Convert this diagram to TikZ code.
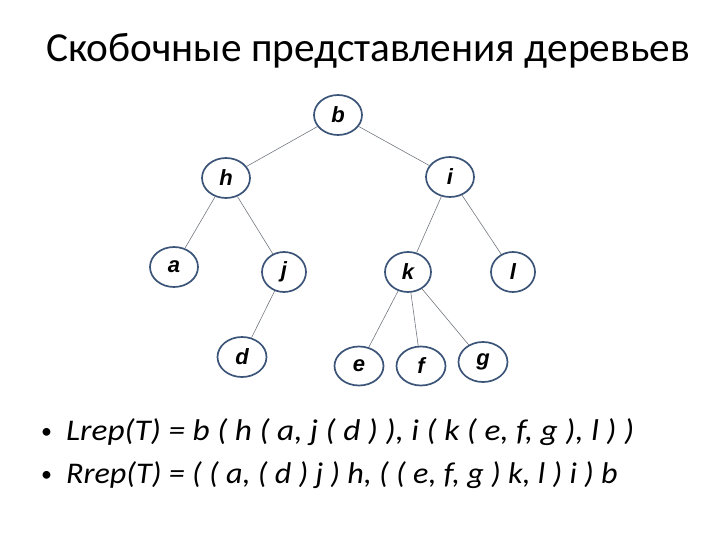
\documentclass[tikz,border=0pt]{standalone}
\usepackage{fontspec}
\setmainfont{Carlito}
\newfontfamily\nodefont{Liberation Sans}
\newfontfamily\repfont{Carlito}[FakeStretch=1.11]
\newfontfamily\repfontnarrow{Carlito}[FakeStretch=1.07]
\usetikzlibrary{shapes.geometric}
\definecolor{rimblue}{rgb}{0.23,0.33,0.47}
\definecolor{edgegray}{rgb}{0.45,0.47,0.50}

\tikzset{
  vert/.style={ellipse,draw=rimblue,line width=1.7pt,fill=white,
    minimum width=48pt,minimum height=40pt,inner sep=0pt,
    font=\nodefont\fontsize{22}{24}\selectfont\bfseries\itshape},
  branch/.style={draw=edgegray,line width=0.6pt},
  bracketline/.style={anchor=base west,inner sep=0pt,
    font=\repfont\fontsize{30}{34}\selectfont\itshape},
  bulletdot/.style={anchor=base west,inner sep=0pt,font=\fontsize{22}{24}\selectfont}
}

\begin{document}
\begin{tikzpicture}[x=1pt,y=-1pt]
\useasboundingbox (0,0) rectangle (720,540);

%% title
\node [anchor=base] (title) at (368,62) {\fontsize{41.3}{44}\selectfont Скобочные представления деревьев};

%% tree
% nodes
\node [vert] (b) at (338,115) {b};
\node [vert] (h) at (226,178) {h};
\node [vert] (i) at (450,177) {i};
\node [vert] (a) at (174,267) {a};
\node [vert,minimum width=44pt] (j) at (284,272) {j};
\node [vert,minimum width=46pt] (k) at (408,272) {k};
\node [vert,minimum width=44pt] (l) at (513,272) {l};
\node [vert,minimum width=49pt] (d) at (242,357) {d};
\node [vert,minimum width=49pt,minimum height=39pt] (e) at (359,366) {e};
\node [vert,minimum width=49pt,minimum height=39pt] (f) at (421,366) {f};
\node [vert,minimum width=49pt] (g) at (483,362) {g};
% edges
\draw [branch] (b) -- (h);
\draw [branch] (b) -- (i);
\draw [branch] (h) -- (a);
\draw [branch] (h) -- (j);
\draw [branch] (i) -- (k);
\draw [branch] (i) -- (l);
\draw [branch] (j) -- (d);
\draw [branch] (k) -- (e);
\draw [branch] (k) -- (f);
\draw [branch] (k) -- (g);

%% bracket forms
\node [bulletdot] (dot1) at (41,438) {•};
\node [bracketline] (lrep) at (66,440) {Lrep(T) = b ( h ( a, j ( d ) ), i ( k ( e, f, g ), l ) )};
\node [bulletdot] (dot2) at (41,481) {•};
\node [bracketline,font=\repfontnarrow\fontsize{30}{34}\selectfont\itshape] (rrep) at (66,483) {Rrep(T) = ( ( a, ( d ) j ) h, ( ( e, f, g ) k, l ) i ) b};

\end{tikzpicture}
\end{document}
